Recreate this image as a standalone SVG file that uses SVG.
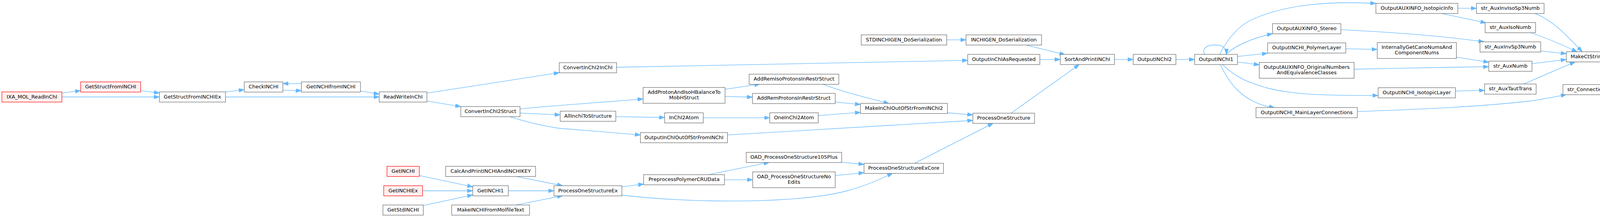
<svg xmlns="http://www.w3.org/2000/svg" width="4496" height="555" viewBox="0 0 4496 555">
<defs>
<marker id="a" markerUnits="userSpaceOnUse" markerWidth="14" markerHeight="10" refX="14" refY="5" orient="auto">
<path d="M0,0 L14,5 L0,10 z" fill="#63B8FF" stroke="#63B8FF" stroke-width="1"/>
</marker>
<style>
.n rect{fill:#ffffff;stroke:#666666;stroke-width:1.2}
.r rect{fill:#FFF0F0;stroke:#FF0000;stroke-width:1.2}
.g rect{fill:#999999;stroke:#666666;stroke-width:1.2}
text{font-family:"DejaVu Sans","Liberation Sans",sans-serif;font-size:13px;text-anchor:middle;fill:#000000}
#edges path{fill:none;stroke:#63B8FF;stroke-width:1.3;marker-end:url(#a)}
</style>
</defs>
<rect x="0" y="0" width="4496" height="555" fill="#ffffff"/>
<g id="edges">
<path d="M158.5,237.9 L206.5,231.9"/>
<path d="M158.5,248 L408.1,248"/>
<path d="M360.1,231.9 L408.1,237.9"/>
<path d="M577.3,235.4 L625.3,229.4"/>
<path d="M577.3,248 L970.7,248"/>
<path d="M771.5,213.8 L724.1,213.8"/>
<path d="M724.1,230.8 L771.5,231.9"/>
<path d="M922.7,232.9 L970.7,240.7"/>
<path d="M1092.9,238.2 L1431.7,185.9"/>
<path d="M1092.9,258.4 L1179.6,272.6"/>
<path d="M1331.3,278.6 C1400,271 1500,265 1646.3,253.1"/>
<path d="M1331.3,289.2 L1434.1,293.8"/>
<path d="M1304.7,298.4 C1350,313 1390,322 1430,328 L1639.5,345.2"/>
<path d="M1578.4,172 L2477.4,154.3"/>
<path d="M1856.1,228.3 L1945.3,215.2"/>
<path d="M1856.1,246.7 L1926.4,248.5"/>
<path d="M1576.5,298.4 L1701.5,300.5"/>
<path d="M1800.4,301.2 L1970.5,301.2"/>
<path d="M2105.3,215.2 C2160,236 2220,250 2275.7,264.8"/>
<path d="M2138.2,261.2 L2202.7,267.2"/>
<path d="M2094.6,295.6 L2202.7,287.4"/>
<path d="M1862.4,345.2 L2490.5,308"/>
<path d="M2425.5,288.5 L2490.5,293.8"/>
<path d="M2588.4,289.5 L2762.9,165"/>
<path d="M2341.2,417.7 L2542.3,315.4"/>
<path d="M2423.6,101.9 L2473,101.9"/>
<path d="M2627.1,115.4 L2726.5,139.8"/>
<path d="M2662,152.2 L2714.4,152.2"/>
<path d="M2853,152.2 L2901,152.2"/>
<path d="M3010.4,152.2 L3058.4,152.2"/>
<path d="M3084,139.1 C3077,127 3086,115 3110,115 C3130,115 3140,122 3139.5,139.1"/>
<path d="M3122.4,139.1 C3145,95 3175,62 3212,47 C3290,14 3390,2 3522.3,8.8"/>
<path d="M3138,139.1 C3165,115 3205,98 3257.6,86"/>
<path d="M3167.9,144.4 L3245,136.3"/>
<path d="M3167.9,158.6 L3223.7,165.7"/>
<path d="M3129.6,165 C3165,200 3200,212 3240,224 C3310,243 3400,244.3 3528,244.3"/>
<path d="M3123.8,165 C3148,215 3180,255 3240,271 L3262.9,275.4"/>
<path d="M3445.2,124.6 L3525.7,126.4"/>
<path d="M3432.6,75.8 C3550,82 3680,90 3799,107"/>
<path d="M3466.5,177 C3600,174 3700,172 3811.2,170.6"/>
<path d="M3689.5,34.3 L3804,58.4"/>
<path d="M3732,21.2 L3779.7,21.2"/>
<path d="M3728.4,146.2 L3811.7,159.3"/>
<path d="M3725.9,232.9 L3800.5,231.1"/>
<path d="M3474.7,285.3 C3650,279 3800,272 3920,258 C3960,252 3985,247 4009.7,241.8"/>
<path d="M3928.5,34.3 C3975,50 4020,100 4050.3,132.4"/>
<path d="M3918.3,83.5 C3950,94 3990,110 4037.6,132.4"/>
<path d="M3944.2,130.3 L4009.7,137.3"/>
<path d="M3921.9,162.8 L4009.7,152.2"/>
<path d="M3900.5,214.9 L4032.5,158.2"/>
<path d="M4103.6,158.2 L4205.2,192.6"/>
<path d="M4127.5,220.9 L4175.7,213.8"/>
<path d="M4314.3,205.5 L4362.5,205.5"/>
<path d="M1073.5,448.8 L1210.2,477.9"/>
<path d="M1081.7,488 L1210.2,488"/>
<path d="M1083.6,525.7 L1210.2,498.4"/>
<path d="M1321.6,451.3 L1440.4,475"/>
<path d="M1301.3,488 L1418.1,488"/>
<path d="M1321.6,524.2 L1440.4,500.5"/>
<path d="M1592,477.9 L1647.7,470.8"/>
<path d="M1814.4,446.7 L1969.5,415.2"/>
<path d="M1854.7,459.8 L1926.9,459.8"/>
<path d="M2154.7,414.9 L2211.9,420.5"/>
<path d="M2138.2,448.8 L2211.9,441.8"/>
<path d="M1592,499 C1720,514 1900,520 2050,507 C2140,499 2200,485 2285,443"/>
</g>
<g id="n1" class="r"><rect x="4.8" y="235" width="153.7" height="26"/><text x="81.65" y="251.5">IXA_MOL_ReadInChI</text></g>
<g id="n2" class="r"><rect x="206.5" y="209.5" width="153.6" height="26"/><text x="283.3" y="226">GetStructFromINCHI</text></g>
<g id="n3" class="n"><rect x="408.1" y="235" width="169.2" height="26"/><text x="492.7" y="251.5">GetStructFromINCHIEx</text></g>
<g id="n4" class="n"><rect x="625.3" y="209.5" width="98.8" height="26"/><text x="674.7" y="226">CheckINCHI</text></g>
<g id="n5" class="n"><rect x="771.5" y="209.5" width="151.2" height="26"/><text x="847.1" y="226">GetINCHIfromINCHI</text></g>
<g id="n6" class="n"><rect x="970.7" y="235" width="122.2" height="26"/><text x="1031.8" y="251.5">ReadWriteInChI</text></g>
<g id="n7" class="n"><rect x="1179.6" y="272.5" width="151.7" height="26"/><text x="1255.45" y="289">ConvertInChI2Struct</text></g>
<g id="n8" class="n"><rect x="1431.7" y="160.3" width="146.7" height="26"/><text x="1505.05" y="176.8">ConvertInChI2InChI</text></g>
<g id="n9" class="n"><rect x="1434.1" y="284.3" width="142.4" height="26"/><text x="1505.3" y="300.8">AllInchiToStructure</text></g>
<g id="n10" class="r"><rect x="990.6" y="425.4" width="82.9" height="26"/><text x="1032.05" y="441.9">GetINCHI</text></g>
<g id="n11" class="r"><rect x="982.4" y="475" width="99.3" height="26"/><text x="1032.05" y="491.5">GetINCHIEx</text></g>
<g id="n12" class="n"><rect x="980.4" y="524.3" width="103.2" height="26"/><text x="1032" y="540.8">GetStdINCHI</text></g>
<g id="n13" class="n"><rect x="1140.9" y="425.4" width="230.2" height="26"/><text x="1256" y="441.9">CalcAndPrintINCHIAndINCHIKEY</text></g>
<g id="n14" class="n"><rect x="1210.2" y="475" width="91.1" height="26"/><text x="1255.75" y="491.5">GetINCHI1</text></g>
<g id="n15" class="n"><rect x="1156.4" y="524.3" width="199.2" height="26"/><text x="1256" y="540.8">MakeINCHIFromMolfileText</text></g>
<g id="n16" class="n"><rect x="1418.1" y="475" width="173.9" height="26"/><text x="1505.05" y="491.5">ProcessOneStructureEx</text></g>
<g id="n17" class="n"><rect x="1646.3" y="223.7" width="209.8" height="40.5"/><text x="1751.2" y="240">AddProtonAndIsoHBalanceTo</text><text x="1751.2" y="253.8">MobHStruct</text></g>
<g id="n18" class="n"><rect x="1701.5" y="288.5" width="98.9" height="26"/><text x="1750.95" y="305">InChI2Atom</text></g>
<g id="n19" class="n"><rect x="1639.5" y="339.1" width="222.9" height="26"/><text x="1750.95" y="355.6">OutputInChIOutOfStrFromINChI</text></g>
<g id="n20" class="n"><rect x="1647.7" y="446.7" width="207" height="26"/><text x="1751.2" y="463.2">PreprocessPolymerCRUData</text></g>
<g id="n21" class="n"><rect x="1917.7" y="189.6" width="229.7" height="26"/><text x="2032.55" y="206.1">AddRemIsoProtonsInRestrStruct</text></g>
<g id="n22" class="n"><rect x="1926.4" y="238.9" width="211.8" height="26"/><text x="2032.3" y="255.4">AddRemProtonsInRestrStruct</text></g>
<g id="n23" class="n"><rect x="1970.5" y="288.5" width="124.1" height="26"/><text x="2032.55" y="305">OneInChI2Atom</text></g>
<g id="n24" class="n"><rect x="1910.4" y="389.6" width="244.3" height="26"/><text x="2032.55" y="406.1">OAD_ProcessOneStructure105Plus</text></g>
<g id="n25" class="n"><rect x="1926.9" y="439.6" width="211.3" height="40.5"/><text x="2032.55" y="455.9">OAD_ProcessOneStructureNo</text><text x="2032.55" y="469.7">Edits</text></g>
<g id="n26" class="n"><rect x="2204.6" y="89.2" width="219" height="26"/><text x="2314.1" y="105.7">STDINCHIGEN_DoSerialization</text></g>
<g id="n27" class="n"><rect x="2202.7" y="264.4" width="222.8" height="26"/><text x="2314.1" y="280.9">MakeInChIOutOfStrFromINChI2</text></g>
<g id="n28" class="n"><rect x="2211.9" y="417.6" width="203.4" height="26"/><text x="2313.6" y="434.1">ProcessOneStructureExCore</text></g>
<g id="n29" class="n"><rect x="2473" y="89.2" width="193.4" height="26"/><text x="2569.7" y="105.7">INCHIGEN_DoSerialization</text></g>
<g id="n30" class="n"><rect x="2477.4" y="139.1" width="184.6" height="26"/><text x="2569.7" y="155.6">OutputInChIAsRequested</text></g>
<g id="n31" class="n"><rect x="2490.5" y="289.5" width="158" height="26"/><text x="2569.5" y="306">ProcessOneStructure</text></g>
<g id="n32" class="n"><rect x="2714.4" y="139.1" width="138.6" height="26"/><text x="2783.7" y="155.6">SortAndPrintINChI</text></g>
<g id="n33" class="n"><rect x="2901" y="139.1" width="109.4" height="26"/><text x="2955.7" y="155.6">OutputINChI2</text></g>
<g id="n34" class="n"><rect x="3058.4" y="139.1" width="109.5" height="26"/><text x="3113.15" y="155.6">OutputINChI1</text></g>
<g id="n35" class="n"><rect x="3257.6" y="60.5" width="175" height="26"/><text x="3345.1" y="77">OutputAUXINFO_Stereo</text></g>
<g id="n36" class="n"><rect x="3245" y="109.7" width="200.2" height="26"/><text x="3345.1" y="126.2">OutputINCHI_PolymerLayer</text></g>
<g id="n37" class="n"><rect x="3223.7" y="159.7" width="242.8" height="40.5"/><text x="3345.1" y="176">OutputAUXINFO_OriginalNumbers</text><text x="3345.1" y="189.8">AndEquivalenceClasses</text></g>
<g id="n38" class="n"><rect x="3215.4" y="275" width="259.3" height="26"/><text x="3345.05" y="291.5">OutputINCHI_MainLayerConnections</text></g>
<g id="n39" class="n"><rect x="3522.3" y="8.5" width="209.7" height="26"/><text x="3627.15" y="25">OutputAUXINFO_IsotopicInfo</text></g>
<g id="n40" class="n"><rect x="3525.7" y="109" width="202.7" height="40.5"/><text x="3627.05" y="125.3">InternallyGetCanoNumsAnd</text><text x="3627.05" y="139.1">ComponentNums</text></g>
<g id="n41" class="n"><rect x="3528" y="224.4" width="197.9" height="26"/><text x="3626.95" y="240.9">OutputINCHI_IsotopicLayer</text></g>
<g id="n42" class="n"><rect x="3779.7" y="8.5" width="173.1" height="26"/><text x="3866.25" y="25">str_AuxInvIsoSp3Numb</text></g>
<g id="n43" class="n"><rect x="3802" y="57.7" width="129" height="26"/><text x="3866.5" y="74.2">str_AuxIsoNumb</text></g>
<g id="n44" class="n"><rect x="3788.8" y="107.1" width="155.4" height="26"/><text x="3866.5" y="123.6">str_AuxInvSp3Numb</text></g>
<g id="n45" class="n"><rect x="3811.2" y="156.4" width="110.7" height="26"/><text x="3866.55" y="172.9">str_AuxNumb</text></g>
<g id="n46" class="n"><rect x="3800.5" y="214.8" width="132" height="26"/><text x="3866.5" y="231.3">str_AuxTautTrans</text></g>
<g id="n47" class="n"><rect x="4009.7" y="132.4" width="109.2" height="26"/><text x="4064.3" y="148.9">MakeCtString</text></g>
<g id="n48" class="n"><rect x="4001.1" y="216.3" width="126.4" height="26"/><text x="4064.3" y="232.8">str_Connections</text></g>
<g id="n49" class="n"><rect x="4175.7" y="192.5" width="138.6" height="26"/><text x="4245" y="209">MakeCtStringNew</text></g>
<g id="n50" class="g"><rect x="4362.5" y="192.5" width="128" height="26"/><text x="4426.5" y="209">GetDfsOrder4CT</text></g>
</svg>
